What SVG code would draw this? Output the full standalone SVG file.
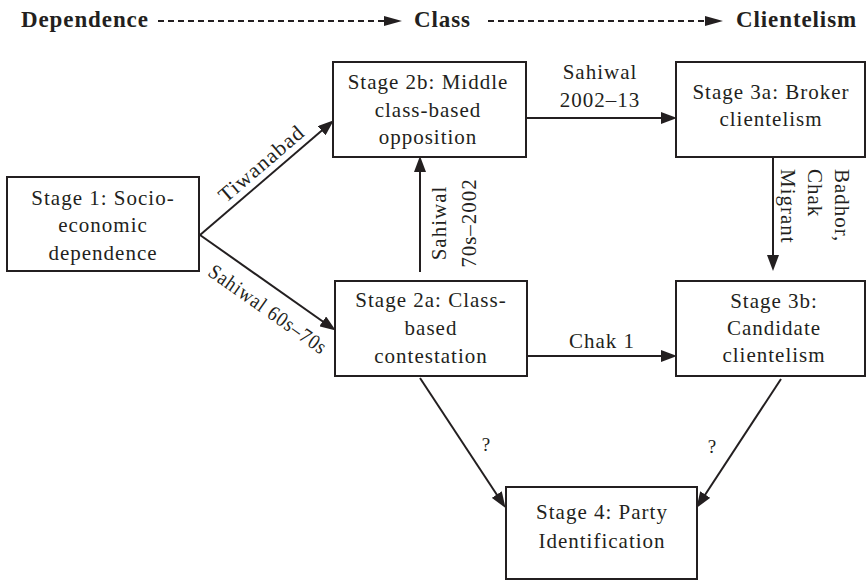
<svg xmlns="http://www.w3.org/2000/svg" width="867" height="581" viewBox="0 0 867 581" font-family="'Liberation Serif', 'DejaVu Serif', serif">
  <style>
    text { font-family: 'Liberation Serif', 'DejaVu Serif', serif; fill: #231f20; }
    .hd { font-size: 23px; font-weight: bold; letter-spacing: 0.9px; }
    .nd { font-size: 21px; letter-spacing: 1px; text-anchor: middle; }
    .lb { font-size: 21px; letter-spacing: 1px; }
    .q { font-size: 19px; text-anchor: middle; }
    .box { fill: #ffffff; stroke: #231f20; stroke-width: 2; }
    .edge { fill: none; stroke: #231f20; stroke-width: 2; marker-end: url(#arr); }
    .dash { fill: none; stroke: #231f20; stroke-width: 2; stroke-dasharray: 6 4; marker-end: url(#harr); }
  </style>
  <defs>
    <marker id="arr" markerUnits="userSpaceOnUse" markerWidth="17" markerHeight="12" refX="11" refY="6" orient="auto">
      <path d="M0,0 L16,6 L0,12 Z" fill="#231f20"/>
    </marker>
    <marker id="harr" markerUnits="userSpaceOnUse" markerWidth="20" markerHeight="12" refX="4" refY="5" orient="auto">
      <path d="M0,0 L18,5 L0,10 Z" fill="#231f20"/>
    </marker>
  </defs>

  <rect width="867" height="581" fill="#ffffff"/>

  <!-- header: process stages -->
  <g id="header">
    <text class="hd" x="21" y="27">Dependence</text>
    <line class="dash" x1="158" y1="21" x2="388" y2="21"/>
    <text class="hd" x="414" y="27">Class</text>
    <line class="dash" x1="488" y1="21" x2="709" y2="21"/>
    <text class="hd" x="736" y="27">Clientelism</text>
  </g>

  <!-- connectors -->
  <g id="connectors">
    <line class="edge" x1="200" y1="235" x2="330" y2="123.6"/>
    <line class="edge" x1="200" y1="235" x2="331.7" y2="327.7"/>
    <line class="edge" x1="420" y1="272" x2="420" y2="161"/>
    <line class="edge" x1="526" y1="118" x2="672" y2="118"/>
    <line class="edge" x1="773" y1="157" x2="773" y2="266"/>
    <line class="edge" x1="527" y1="356" x2="672" y2="356"/>
    <line class="edge" x1="420" y1="378" x2="502.8" y2="503.7"/>
    <line class="edge" x1="781" y1="379" x2="699.2" y2="503.7"/>

    <text class="lb" text-anchor="middle" transform="translate(266,169) rotate(-40.6)" textLength="106" lengthAdjust="spacingAndGlyphs">Tiwanabad</text>
    <text class="lb" text-anchor="middle" transform="translate(264,315) rotate(35.1)" textLength="140" lengthAdjust="spacingAndGlyphs">Sahiwal 60s–70s</text>
    <g transform="translate(446,223) rotate(-90)">
      <text class="lb" text-anchor="middle" x="0" y="0">Sahiwal</text>
      <text class="lb" text-anchor="middle" x="0" y="30">70s–2002</text>
    </g>
    <text class="lb" text-anchor="middle" x="600" y="79">Sahiwal</text>
    <text class="lb" text-anchor="middle" x="600" y="107">2002–13</text>
    <g transform="translate(781,169) rotate(90)">
      <text class="lb" x="0" y="-54">Badhor,</text>
      <text class="lb" x="0" y="-27">Chak</text>
      <text class="lb" x="0" y="0">Migrant</text>
    </g>
    <text class="lb" text-anchor="middle" x="602" y="348">Chak 1</text>
    <text class="q" x="486" y="451">?</text>
    <text class="q" x="712" y="453">?</text>
  </g>

  <g id="stage1">
    <rect class="box" x="7" y="177" width="192" height="94"/>
    <text class="nd" x="103" y="205">Stage 1: Socio-</text>
    <text class="nd" x="103" y="232">economic</text>
    <text class="nd" x="103" y="260">dependence</text>
  </g>

  <g id="stage2b">
    <rect class="box" x="333" y="62" width="193" height="95"/>
    <text class="nd" x="428" y="89">Stage 2b: Middle</text>
    <text class="nd" x="428" y="117">class-based</text>
    <text class="nd" x="428" y="144">opposition</text>
  </g>

  <g id="stage3a">
    <rect class="box" x="676" y="62" width="189" height="95"/>
    <text class="nd" x="771" y="99">Stage 3a: Broker</text>
    <text class="nd" x="771" y="126">clientelism</text>
  </g>

  <g id="stage2a">
    <rect class="box" x="335" y="281" width="192" height="95"/>
    <text class="nd" x="431" y="307">Stage 2a: Class-</text>
    <text class="nd" x="431" y="335">based</text>
    <text class="nd" x="431" y="363">contestation</text>
  </g>

  <g id="stage3b">
    <rect class="box" x="676" y="281" width="189" height="95"/>
    <text class="nd" x="774" y="308">Stage 3b:</text>
    <text class="nd" x="774" y="335">Candidate</text>
    <text class="nd" x="774" y="362">clientelism</text>
  </g>

  <g id="stage4">
    <rect class="box" x="506" y="487" width="191" height="92"/>
    <text class="nd" x="602" y="519">Stage 4: Party</text>
    <text class="nd" x="602" y="548">Identification</text>
  </g>
</svg>
